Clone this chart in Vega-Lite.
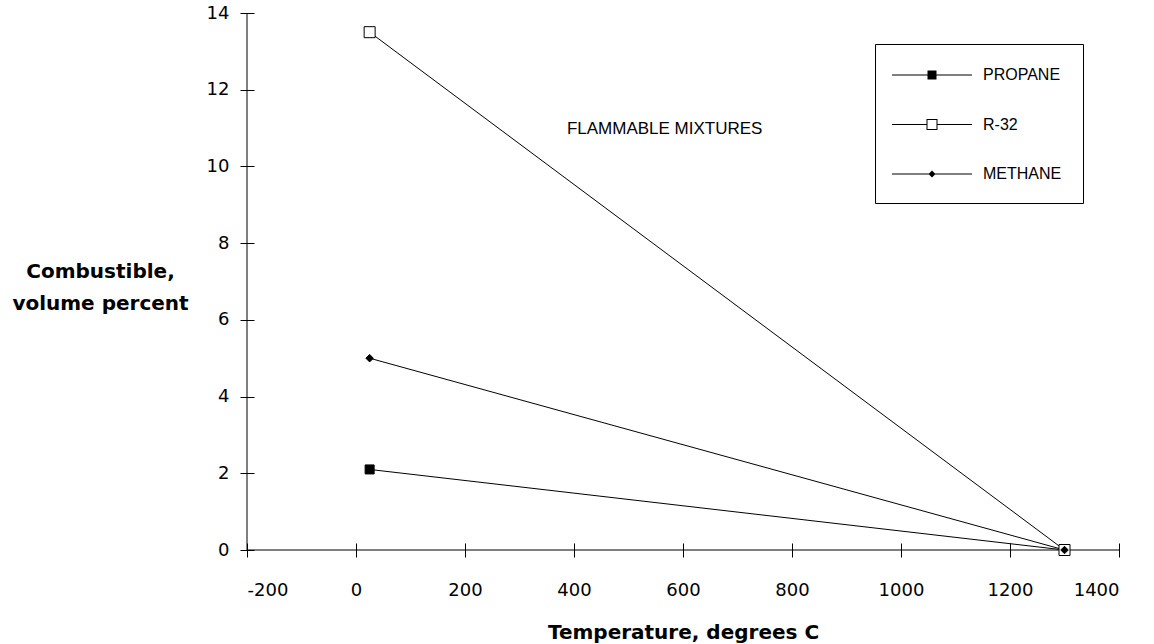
{
  "$schema": "https://vega.github.io/schema/vega-lite/v6.json",
  "width": 872,
  "height": 537,
  "autosize": {"type": "none"},
  "padding": {"left": 247, "top": 13, "right": 35, "bottom": 94},
  "background": "white",
  "config": {
    "view": {"stroke": null},
    "axis": {
      "grid": false,
      "domain": false,
      "tickColor": "black",
      "tickWidth": 1,
      "tickSize": 14,
      "offset": -7,
      "labelColor": "black",
      "labelFont": "DejaVu Sans",
      "labelFontSize": 18,
      "labelExpr": "'' + datum.value",
      "titleColor": "black",
      "titleFont": "DejaVu Sans",
      "titleFontWeight": "bold",
      "titleFontSize": 20
    },
    "legend": {
      "orient": "none", "legendX": 628, "legendY": 31, "title": null,
      "symbolSize": 400, "symbolOffset": 26,
      "symbolFillColor": "black", "symbolStrokeWidth": 0,
      "labelFont": "Liberation Sans", "labelFontSize": 16, "labelColor": "black",
      "labelOffset": 41, "labelLimit": 200,
      "rowPadding": 31.5, "padding": 21, "strokeColor": "black", "fillColor": "white", "cornerRadius": 0
    }
  },
  "datasets": {
    "series": [
      {"series": "Propane", "temp": 25, "pct": 2.1},
      {"series": "Propane", "temp": 1300, "pct": 0},
      {"series": "R-32", "temp": 25, "pct": 13.5},
      {"series": "R-32", "temp": 1300, "pct": 0},
      {"series": "Methane", "temp": 25, "pct": 5.0},
      {"series": "Methane", "temp": 1300, "pct": 0}
    ],
    "note": [
      {"label": "FLAMMABLE MIXTURES", "x": 387, "y": 10.85}
    ]
  },
  "layer": [
    {
      "data": {"values": [{}]},
      "mark": {"type": "rule", "color": "black", "strokeWidth": 1},
      "encoding": {"y": {"datum": 0, "type": "quantitative"}}
    },
    {
      "data": {"values": [{}]},
      "mark": {"type": "rule", "color": "black", "strokeWidth": 1},
      "encoding": {"x": {"datum": -200, "type": "quantitative"}}
    },
    {
      "data": {"name": "series"},
      "mark": {"type": "line", "color": "black", "strokeWidth": 1},
      "encoding": {
        "x": {
          "field": "temp", "type": "quantitative",
          "scale": {"domain": [-200, 1400], "nice": false, "zero": false},
          "axis": {
            "values": [-200, 0, 200, 400, 600, 800, 1000, 1200, 1400],
            "labelPadding": 24,
            "title": "Temperature, degrees C",
            "titleBaseline": "alphabetic",
            "titleY": 95
          }
        },
        "y": {
          "field": "pct", "type": "quantitative",
          "scale": {"domain": [0, 14], "nice": false},
          "axis": {
            "values": [0, 2, 4, 6, 8, 10, 12, 14],
            "labelPadding": 11,
            "title": ["Combustible,", "volume percent"],
            "titleAngle": 0,
            "titleAlign": "center",
            "titleBaseline": "alphabetic",
            "titleX": -154,
            "titleY": 264,
            "titleLineHeight": 32
          }
        },
        "detail": {"field": "series"}
      }
    },
    {
      "data": {"name": "series"},
      "mark": {"type": "point", "stroke": "black", "strokeWidth": 1, "size": 100, "opacity": 1},
      "encoding": {
        "x": {"field": "temp", "type": "quantitative"},
        "y": {"field": "pct", "type": "quantitative"},
        "shape": {
          "field": "series",
          "scale": {
            "domain": ["Propane", "R-32", "Methane"],
            "range": ["M-0.9,-0.9H0.9V0.9H-0.9Z", "M-1.1,-1.1H1.1V1.1H-1.1Z", "M0,-0.75L0.75,0L0,0.75L-0.75,0Z"]
          },
          "legend": null
        },
        "fill": {
          "field": "series",
          "scale": {"domain": ["Propane", "R-32", "Methane"], "range": ["black", "white", "black"]},
          "legend": null
        }
      }
    },
    {
      "data": {"name": "series"},
      "mark": {"type": "point", "filled": true, "color": "black", "strokeWidth": 0, "size": 0, "opacity": 1},
      "encoding": {
        "x": {"field": "temp", "type": "quantitative"},
        "y": {"field": "pct", "type": "quantitative"},
        "shape": {
          "field": "series",
          "scale": {
            "domain": ["Propane", "R-32", "Methane"],
            "range": [
              "M-4,-0.05L4,-0.05L4,0.05L-4,0.05Z M-0.45,-0.45L0.45,-0.45L0.45,0.45L-0.45,0.45Z",
              "M-4,-0.05L-0.55,-0.05L-0.55,0.05L-4,0.05Z M0.55,-0.05L4,-0.05L4,0.05L0.55,0.05Z M-0.55,-0.55L0.55,-0.55L0.55,0.55L-0.55,0.55Z M-0.45,-0.45L-0.45,0.45L0.45,0.45L0.45,-0.45Z",
              "M-4,-0.05L4,-0.05L4,0.05L-4,0.05Z M0,-0.35L0.35,0L0,0.35L-0.35,0Z"
            ]
          },
          "legend": {
            "labelExpr": "upper(datum.label)"
          }
        }
      }
    },
    {
      "data": {"name": "note"},
      "mark": {"type": "text", "align": "left", "baseline": "alphabetic", "font": "Liberation Sans", "fontSize": 17, "color": "black"},
      "encoding": {
        "x": {"field": "x", "type": "quantitative"},
        "y": {"field": "y", "type": "quantitative"},
        "text": {"field": "label"}
      }
    }
  ],
  "resolve": {"scale": {"shape": "independent", "fill": "independent"}}
}
